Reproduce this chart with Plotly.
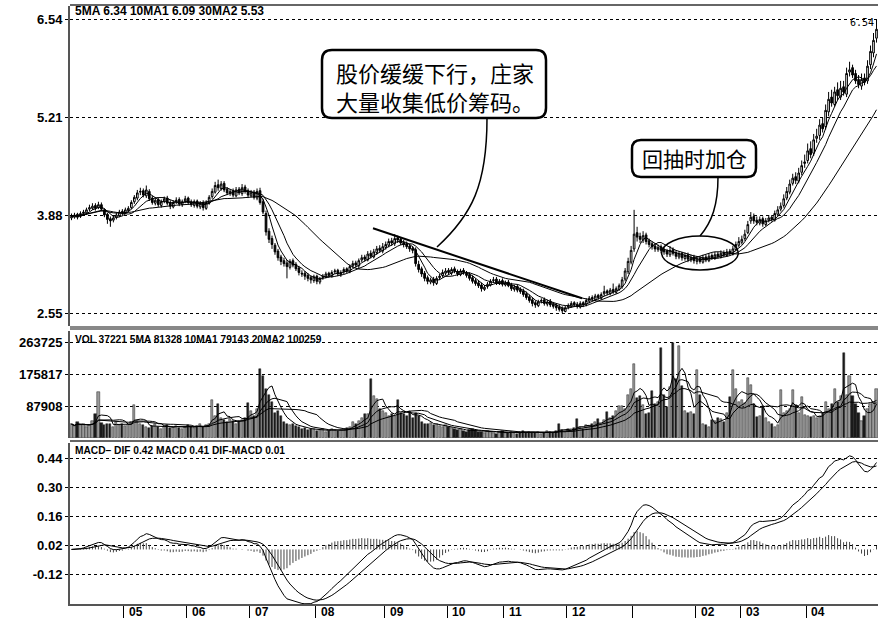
import numpy as np
import pandas as pd
import plotly.graph_objects as go

# ---------------- data ----------------
closes = [
    3.86, 3.88, 3.85, 3.90, 3.92, 3.95, 3.98, 4.00, 3.97, 4.02, 3.96, 3.88, 3.82, 3.80, 3.84, 3.88, 3.92, 3.90,
    3.95, 3.97, 4.05, 4.12, 4.18, 4.20, 4.15, 4.22, 4.10, 4.05, 4.08, 4.02, 4.06, 4.10, 4.04, 4.00, 4.05, 4.08, 4.03, 4.06, 4.10,
    4.05, 4.02, 4.06, 4.00, 4.04, 3.98, 4.05, 4.12, 4.20, 4.28, 4.25, 4.30, 4.22, 4.18, 4.20, 4.15, 4.22, 4.18, 4.25, 4.20, 4.15,
    4.18, 4.12, 4.20, 4.05, 3.92, 3.65, 3.55, 3.48, 3.38, 3.30, 3.25, 3.22, 3.18, 3.25, 3.20, 3.15, 3.10, 3.08, 3.05, 3.02, 3.00, 3.04,
    2.98, 3.02, 3.05, 3.08, 3.06, 3.10, 3.12, 3.08, 3.10, 3.14, 3.12, 3.18, 3.22, 3.20, 3.26, 3.30, 3.28, 3.35, 3.32, 3.38, 3.42, 3.40, 3.45,
    3.48, 3.52, 3.50, 3.56, 3.54, 3.50, 3.48, 3.45, 3.42, 3.40, 3.22, 3.14, 3.08, 3.02, 2.98, 3.00, 2.96, 3.02, 3.05, 3.10, 3.12,
    3.10, 3.14, 3.12, 3.08, 3.12, 3.10, 3.06, 3.02, 2.98, 2.95, 2.92, 2.88, 2.90, 2.94, 2.98, 3.00, 2.96, 2.98, 2.94,
    2.96, 2.92, 2.88, 2.90, 2.86, 2.84, 2.80, 2.76, 2.72, 2.68, 2.66, 2.70, 2.72, 2.68, 2.70, 2.66, 2.64, 2.62, 2.60, 2.58, 2.62,
    2.65, 2.68, 2.66, 2.64, 2.68, 2.66, 2.72, 2.75, 2.74, 2.78, 2.76, 2.80, 2.84, 2.82, 2.86, 2.84, 2.88, 2.92, 3.00, 3.12, 3.25, 3.40,
    3.62, 3.58, 3.55, 3.60, 3.52, 3.48, 3.45, 3.42, 3.44, 3.40, 3.38, 3.35, 3.40, 3.36, 3.32, 3.35, 3.30, 3.33, 3.28, 3.30, 3.26,
    3.28, 3.25, 3.30, 3.27, 3.32, 3.30, 3.34, 3.32, 3.36, 3.34, 3.38, 3.36, 3.42, 3.48, 3.52,
    3.55, 3.62, 3.75, 3.85, 3.80, 3.78, 3.82, 3.76, 3.80, 3.84, 3.82, 3.90, 3.95, 4.00, 4.10, 4.20, 4.30, 4.38, 4.35, 4.45, 4.55, 4.60,
    4.75, 4.70, 4.90, 4.95, 5.10, 5.05, 5.30, 5.45, 5.40, 5.55, 5.50, 5.60, 5.55, 5.80, 5.85, 5.78, 5.70, 5.65, 5.72, 5.68, 5.90, 6.10, 6.25, 6.40,
]
opens = [
    3.84, 3.85, 3.89, 3.86, 3.90, 3.91, 3.96, 3.97, 4.01, 3.98, 4.02, 3.95, 3.89, 3.83, 3.81, 3.85, 3.87, 3.93,
    3.91, 3.94, 3.98, 4.06, 4.11, 4.19, 4.21, 4.14, 4.20, 4.11, 4.04, 4.09, 4.01, 4.07, 4.11, 4.05, 3.99, 4.06, 4.09, 4.02, 4.07,
    4.11, 4.06, 4.01, 4.07, 3.99, 4.05, 3.97, 4.04, 4.13, 4.19, 4.29, 4.24, 4.31, 4.23, 4.17, 4.21, 4.14, 4.23, 4.17, 4.26, 4.21,
    4.14, 4.19, 4.11, 4.21, 4.06, 3.90, 3.66, 3.56, 3.47, 3.39, 3.31, 3.26, 3.23, 3.17, 3.26, 3.21, 3.16, 3.09, 3.09, 3.06, 3.03, 2.99,
    3.05, 2.97, 3.03, 3.04, 3.09, 3.05, 3.11, 3.13, 3.07, 3.11, 3.15, 3.11, 3.19, 3.23, 3.19, 3.27, 3.31, 3.27, 3.36, 3.31, 3.37, 3.43, 3.39,
    3.44, 3.47, 3.53, 3.49, 3.57, 3.55, 3.51, 3.49, 3.46, 3.43, 3.41, 3.21, 3.15, 3.09, 3.03, 2.97, 3.01, 2.95, 3.03, 3.06, 3.09,
    3.13, 3.09, 3.15, 3.11, 3.07, 3.13, 3.09, 3.07, 3.03, 2.99, 2.96, 2.93, 2.87, 2.91, 2.93, 2.99, 3.01, 2.95, 2.99,
    2.93, 2.97, 2.93, 2.87, 2.91, 2.87, 2.85, 2.81, 2.77, 2.73, 2.69, 2.65, 2.71, 2.73, 2.67, 2.71, 2.67, 2.65, 2.63, 2.61, 2.57,
    2.63, 2.64, 2.69, 2.67, 2.63, 2.69, 2.67, 2.71, 2.76, 2.73, 2.79, 2.75, 2.81, 2.85, 2.81, 2.87, 2.83, 2.87, 2.91, 3.01, 3.11, 3.24,
    3.42, 3.64, 3.59, 3.54, 3.61, 3.53, 3.49, 3.46, 3.41, 3.45, 3.41, 3.39, 3.34, 3.41, 3.37, 3.31, 3.36, 3.29, 3.34, 3.27, 3.31,
    3.25, 3.29, 3.24, 3.31, 3.26, 3.33, 3.29, 3.35, 3.31, 3.37, 3.33, 3.39, 3.35, 3.41, 3.47,
    3.51, 3.56, 3.64, 3.80, 3.86, 3.81, 3.77, 3.83, 3.75, 3.81, 3.85, 3.81, 3.89, 3.96, 4.01, 4.11, 4.19, 4.31, 4.40, 4.34, 4.46, 4.58,
    4.62, 4.78, 4.72, 4.92, 4.96, 5.12, 5.08, 5.28, 5.48, 5.38, 5.58, 5.48, 5.62, 5.52, 5.82, 5.88, 5.80, 5.72, 5.63, 5.74, 5.70, 5.92, 6.08, 6.28,
]
highs = [
    3.90, 3.91, 3.91, 3.93, 3.95, 3.98, 4.02, 4.04, 4.04, 4.06, 4.05, 3.97, 3.91, 3.86, 3.87, 3.91, 3.95, 3.96,
    3.98, 4.00, 4.08, 4.15, 4.22, 4.25, 4.24, 4.28, 4.23, 4.14, 4.12, 4.12, 4.09, 4.13, 4.14, 4.08, 4.08, 4.12, 4.12, 4.09, 4.14,
    4.13, 4.09, 4.09, 4.09, 4.07, 4.08, 4.08, 4.15, 4.24, 4.33, 4.36, 4.34, 4.34, 4.26, 4.23, 4.24, 4.26, 4.26, 4.30, 4.29, 4.24,
    4.22, 4.22, 4.24, 4.25, 4.10, 3.94, 3.70, 3.60, 3.50, 3.42, 3.34, 3.30, 3.27, 3.28, 3.29, 3.24, 3.19, 3.13, 3.12, 3.09, 3.06, 3.07,
    3.07, 3.04, 3.08, 3.11, 3.11, 3.13, 3.15, 3.15, 3.13, 3.17, 3.17, 3.21, 3.26, 3.26, 3.29, 3.34, 3.34, 3.39, 3.40, 3.42, 3.46, 3.47, 3.50,
    3.52, 3.56, 3.57, 3.62, 3.60, 3.58, 3.54, 3.52, 3.49, 3.46, 3.44, 3.26, 3.18, 3.12, 3.06, 3.03, 3.04, 3.05, 3.08, 3.14, 3.16,
    3.16, 3.17, 3.18, 3.14, 3.15, 3.16, 3.12, 3.10, 3.06, 3.02, 2.99, 2.96, 2.93, 2.97, 3.01, 3.04, 3.04, 3.01, 3.02,
    2.99, 3.00, 2.96, 2.93, 2.94, 2.90, 2.88, 2.84, 2.80, 2.76, 2.72, 2.73, 2.75, 2.76, 2.73, 2.74, 2.70, 2.68, 2.66, 2.64, 2.65,
    2.68, 2.71, 2.71, 2.70, 2.71, 2.71, 2.75, 2.78, 2.79, 2.81, 2.81, 2.83, 2.92, 2.87, 2.89, 2.95, 2.91, 2.95, 3.04, 3.16, 3.30, 3.46,
    3.95, 3.72, 3.64, 3.66, 3.64, 3.56, 3.52, 3.50, 3.48, 3.48, 3.44, 3.42, 3.46, 3.44, 3.40, 3.39, 3.38, 3.37, 3.37, 3.34, 3.34,
    3.32, 3.32, 3.34, 3.34, 3.36, 3.36, 3.38, 3.38, 3.40, 3.40, 3.42, 3.42, 3.46, 3.52, 3.58,
    3.60, 3.68, 3.80, 3.92, 3.90, 3.86, 3.86, 3.86, 3.84, 3.88, 3.88, 3.94, 4.00, 4.05, 4.16, 4.26, 4.36, 4.44, 4.46, 4.52, 4.62, 4.70,
    4.85, 4.88, 4.98, 5.05, 5.18, 5.20, 5.38, 5.55, 5.58, 5.62, 5.68, 5.70, 5.70, 5.88, 5.96, 5.92, 5.85, 5.78, 5.80, 5.80, 5.98, 6.18, 6.35, 6.54,
]
lows = [
    3.81, 3.83, 3.82, 3.84, 3.88, 3.88, 3.93, 3.95, 3.94, 3.96, 3.93, 3.85, 3.76, 3.72, 3.78, 3.82, 3.85, 3.87,
    3.89, 3.92, 3.96, 4.03, 4.08, 4.15, 4.12, 4.11, 4.07, 4.02, 4.01, 3.99, 3.98, 4.04, 4.01, 3.96, 3.97, 4.03, 4.00, 3.99, 4.04,
    4.02, 3.99, 3.98, 3.97, 3.96, 3.94, 3.95, 4.02, 4.10, 4.17, 4.21, 4.21, 4.19, 4.15, 4.14, 4.12, 4.12, 4.15, 4.14, 4.17, 4.11,
    4.12, 4.09, 4.08, 4.02, 3.89, 3.60, 3.50, 3.42, 3.34, 3.26, 3.20, 3.18, 3.02, 3.14, 3.17, 3.12, 3.06, 3.04, 3.00, 2.98, 2.95, 2.96,
    2.94, 2.94, 3.00, 3.02, 3.03, 3.03, 3.08, 3.05, 3.04, 3.08, 3.09, 3.09, 3.16, 3.17, 3.16, 3.24, 3.25, 3.25, 3.29, 3.29, 3.34, 3.37, 3.36,
    3.41, 3.44, 3.46, 3.46, 3.50, 3.47, 3.44, 3.42, 3.38, 3.36, 3.18, 3.10, 3.04, 2.98, 2.94, 2.94, 2.92, 2.93, 3.00, 3.03, 3.06,
    3.07, 3.06, 3.09, 3.05, 3.05, 3.07, 3.03, 2.99, 2.95, 2.92, 2.89, 2.84, 2.85, 2.88, 2.91, 2.96, 2.93, 2.93, 2.91,
    2.91, 2.90, 2.85, 2.84, 2.83, 2.81, 2.77, 2.73, 2.69, 2.64, 2.62, 2.63, 2.68, 2.65, 2.64, 2.63, 2.61, 2.58, 2.57, 2.55, 2.56,
    2.60, 2.62, 2.63, 2.61, 2.61, 2.63, 2.64, 2.68, 2.71, 2.71, 2.73, 2.73, 2.78, 2.79, 2.79, 2.81, 2.81, 2.85, 2.88, 2.98, 3.08, 3.21,
    3.38, 3.52, 3.50, 3.50, 3.48, 3.44, 3.41, 3.38, 3.38, 3.36, 3.34, 3.31, 3.31, 3.33, 3.28, 3.28, 3.26, 3.26, 3.24, 3.24, 3.22,
    3.21, 3.22, 3.22, 3.24, 3.24, 3.27, 3.27, 3.29, 3.29, 3.31, 3.31, 3.33, 3.33, 3.39, 3.44,
    3.48, 3.53, 3.62, 3.76, 3.76, 3.74, 3.74, 3.72, 3.73, 3.78, 3.79, 3.79, 3.86, 3.93, 3.98, 4.08, 4.16, 4.28, 4.30, 4.31, 4.42, 4.52,
    4.58, 4.65, 4.68, 4.86, 4.90, 5.00, 5.04, 5.22, 5.35, 5.35, 5.44, 5.44, 5.50, 5.48, 5.76, 5.74, 5.66, 5.60, 5.58, 5.64, 5.66, 5.86, 6.02, 6.22,
]
volume_k = [
    38, 32, 45, 35, 40, 30, 36, 48, 66, 126,
    42, 35, 40, 38, 30, 44, 36, 40, 33, 38, 45, 90,
    48, 40, 35, 30, 28, 33, 38, 30, 26, 32, 35, 28, 30, 34, 29, 26, 31, 36, 30, 28, 33, 38, 30, 35, 40,
    104, 60, 93, 55, 50, 45, 52, 48, 40, 46, 50, 55, 96, 74, 60, 80,
    192, 173, 135, 120, 100, 70, 75, 60, 45, 38, 35, 40, 32, 30,
    25, 28, 22, 26, 24, 20, 22, 25, 18, 20, 24, 22, 19, 21, 25, 28, 30, 45,
    40, 48, 55, 66, 66, 162, 115, 107, 80, 74, 70, 60, 66, 62,
    104, 70, 66, 60, 72, 55, 68, 62, 45, 40, 38, 42, 36, 38, 33, 30, 35,
    30, 28, 25, 22, 26, 20, 18, 22, 24, 20, 16, 18, 14, 20, 17, 15, 12, 16, 19, 14,
    13, 18, 15, 12, 16, 20, 14, 17, 15, 13, 18, 12, 15, 20, 16, 14, 19,
    38, 22, 18, 25, 20, 28, 52, 30, 26, 35,
    32, 40, 45, 52, 38, 50, 71, 55, 60, 75,
    88, 88, 80, 120, 135, 206, 110, 115, 90, 66,
    70, 129, 95, 100, 250, 120, 85, 140, 264, 162,
    255, 143, 75, 68, 72, 66, 187, 120, 38, 35,
    30, 50, 48, 55, 52, 45, 70, 113, 187, 137,
    100, 105, 98, 165, 148, 95, 58, 60, 88, 55,
    45, 40, 30, 35, 132, 70, 75, 80, 132, 90,
    70, 113, 65, 60, 58, 62, 55, 60, 70, 100,
    80, 95, 137, 100, 115, 236, 120, 173, 115, 95,
    70, 47, 60, 80, 95, 100, 135,
]
month_start_idx = [18, 39, 60, 82, 105, 126, 145, 166, 188, 209, 224, 246]
month_labels = ["05", "06", "07", "08", "09", "10", "11", "12", "", "02", "03", "04"]
price_ticks = [2.55, 3.88, 5.21, 6.54]
price_tick_text = ["2.55", "3.88", "5.21", "6.54"]
vol_ticks = [87908, 175817, 263725]
vol_tick_text = ["87908", "175817", "263725"]
macd_ticks = [-0.12, 0.02, 0.16, 0.30, 0.44]
macd_tick_text = ["-0.12", "0.02", "0.16", "0.30", "0.44"]
price_header = "5MA 6.34 10MA1 6.09 30MA2 5.53"
vol_header = "VOL 37221 5MA 81328 10MA1 79143 20MA2 100259"
macd_header = "MACD– DIF 0.42 MACD 0.41 DIF-MACD 0.01"
high_label = "6.54"
note1_lines = ["股价缓缓下行，庄家", "大量收集低价筹码。"]
note2 = "回抽时加仓"
trend_x = [100.75, 170.6]
trend_y = [3.70, 2.75]
ellipse_x = [197.2, 222.8]
ellipse_y = [3.134, 3.595]

# ---------------- derived series ----------------
n = len(closes)
for name, arr in [("opens", opens), ("highs", highs), ("lows", lows), ("volume_k", volume_k)]:
    assert len(arr) == n, f"{name} has {len(arr)} values, expected {n}"

x = np.arange(n)
o = np.array(opens)
c = np.array(closes)
h = np.maximum.reduce([np.array(highs), o, c])
lo = np.minimum.reduce([np.array(lows), o, c])
vol = np.array(volume_k, dtype=float) * 1000.0

cs = pd.Series(c)
ma5 = cs.rolling(5, min_periods=1).mean()
ma10 = cs.rolling(10, min_periods=1).mean()
ma30 = cs.rolling(30, min_periods=1).mean()
vs = pd.Series(vol)
vma5 = vs.rolling(5, min_periods=1).mean()
vma10 = vs.rolling(10, min_periods=1).mean()
vma20 = vs.rolling(20, min_periods=1).mean()
ema12 = cs.ewm(span=12, adjust=False).mean()
ema26 = cs.ewm(span=26, adjust=False).mean()
dif = ema12 - ema26
dea = dif.ewm(span=9, adjust=False).mean()
hist = dif - dea

# histogram drawn as hairlines from zero
hx, hy = [], []
for xi, v in zip(x, hist):
    hx += [xi, xi, None]
    hy += [0.0, v, None]

# ---------------- layout helpers ----------------
W, H = 878, 618
ML, MR, MT, MB = 70, 0, 4, 14
PW, PH = W - ML - MR, H - MT - MB


def px(xp):
    return (xp - ML) / PW


def py(yp):
    return (H - MB - yp) / PH


NARROW = "Liberation Sans Narrow, Arial Narrow, Liberation Sans, Arial"
SANS = "Liberation Sans, Arial, sans-serif"
CJK = "Noto Sans CJK SC, sans-serif"

fig = go.Figure()

# price panel
fig.add_trace(go.Candlestick(
    x=x, open=o, high=h, low=lo, close=c, xaxis="x", yaxis="y",
    increasing=dict(line=dict(color="black", width=1), fillcolor="white"),
    decreasing=dict(line=dict(color="black", width=1), fillcolor="black"),
    whiskerwidth=0, hoverinfo="skip"))
for ma in (ma5, ma10, ma30):
    fig.add_trace(go.Scatter(x=x, y=ma, mode="lines", xaxis="x", yaxis="y",
                             line=dict(color="black", width=1), hoverinfo="skip"))

# volume panel
vcolors = ["#9a9a9a" if cc >= oo else "#1a1a1a" for oo, cc in zip(o, c)]
fig.add_trace(go.Bar(x=x, y=vol, xaxis="x2", yaxis="y2", width=0.72,
                     marker=dict(color=vcolors, line=dict(color="#222", width=0.5)),
                     hoverinfo="skip"))
for ma in (vma5, vma10, vma20):
    fig.add_trace(go.Scatter(x=x, y=ma, mode="lines", xaxis="x2", yaxis="y2",
                             line=dict(color="black", width=1), hoverinfo="skip"))

# MACD panel
fig.add_trace(go.Scatter(x=hx, y=hy, mode="lines", xaxis="x3", yaxis="y3",
                         line=dict(color="#444", width=1), connectgaps=False, hoverinfo="skip"))
for line in (dif, dea):
    fig.add_trace(go.Scatter(x=x, y=line, mode="lines", xaxis="x3", yaxis="y3",
                             line=dict(color="black", width=1), hoverinfo="skip"))

xr = [-0.5, n - 0.5]
tickfont = dict(family=SANS, size=13, color="black", weight="bold")
common_y = dict(showgrid=True, gridcolor="black", griddash="dot", gridwidth=1,
                zeroline=False, showline=True, linecolor="#555", linewidth=2,
                ticks="outside", ticklen=3, tickcolor="black", tickfont=tickfont,
                fixedrange=True, automargin=False)
common_x = dict(range=xr, showgrid=False, zeroline=False, showticklabels=False,
                fixedrange=True, automargin=False)

fig.update_layout(
    width=W, height=H,
    margin=dict(l=ML, r=MR, t=MT, b=MB, autoexpand=False),
    paper_bgcolor="white", plot_bgcolor="white",
    showlegend=False, bargap=0, boxgap=0.2,
    xaxis=dict(domain=[0, 1], anchor="y", rangeslider=dict(visible=False), **common_x),
    xaxis2=dict(domain=[0, 1], anchor="y2", **common_x),
    xaxis3=dict(domain=[0, 1], anchor="y3", showline=True, linecolor="#555", linewidth=2,
                ticks="outside", ticklen=12, tickcolor="black",
                tickvals=[m - 0.5 for m in month_start_idx], **common_x),
    yaxis=dict(domain=[py(326), py(6)], range=[2.3736, 6.7164],
               tickvals=price_ticks, ticktext=price_tick_text, **common_y),
    yaxis2=dict(domain=[py(438), py(331)], range=[0, 296170],
                tickvals=vol_ticks, ticktext=vol_tick_text, **common_y),
    yaxis3=dict(domain=[py(604), py(443)], range=[-0.2634, 0.5139],
                tickvals=macd_ticks, ticktext=macd_tick_text, **common_y),
)

shapes = []
# panel separators
shapes.append(dict(type="line", xref="paper", yref="paper", x0=0, x1=1, y0=py(5), y1=py(5),
                   line=dict(color="#666", width=2)))
shapes.append(dict(type="line", xref="paper", yref="paper", x0=0, x1=1, y0=py(328), y1=py(328),
                   line=dict(color="#888", width=4)))
shapes.append(dict(type="line", xref="paper", yref="paper", x0=0, x1=1, y0=py(441), y1=py(441),
                   line=dict(color="#666", width=2)))
# trend line and ellipse
shapes.append(dict(type="line", xref="x", yref="y", x0=trend_x[0], x1=trend_x[1],
                   y0=trend_y[0], y1=trend_y[1], line=dict(color="black", width=2)))
shapes.append(dict(type="circle", xref="x", yref="y", x0=ellipse_x[0], x1=ellipse_x[1],
                   y0=ellipse_y[0], y1=ellipse_y[1], line=dict(color="black", width=1.5)))


def rounded_box(x0, y0, x1, y1, r):
    pts = [("M", [(x0 + r, y0)]), ("L", [(x1 - r, y0)]), ("Q", [(x1, y0), (x1, y0 + r)]),
           ("L", [(x1, y1 - r)]), ("Q", [(x1, y1), (x1 - r, y1)]), ("L", [(x0 + r, y1)]),
           ("Q", [(x0, y1), (x0, y1 - r)]), ("L", [(x0, y0 + r)]), ("Q", [(x0, y0), (x0 + r, y0)])]
    s = ""
    for cmd, pp in pts:
        s += cmd + " " + " ".join(f"{px(a):.5f},{py(b):.5f}" for a, b in pp) + " "
    return s + "Z"


def curve(p0, p1, p2, p3):
    return (f"M {px(p0[0]):.5f},{py(p0[1]):.5f} C {px(p1[0]):.5f},{py(p1[1]):.5f} "
            f"{px(p2[0]):.5f},{py(p2[1]):.5f} {px(p3[0]):.5f},{py(p3[1]):.5f}")


shapes.append(dict(type="path", xref="paper", yref="paper", path=curve((487, 118), (487, 185), (472, 215), (437, 247)),
                   line=dict(color="black", width=1.5)))
shapes.append(dict(type="path", xref="paper", yref="paper", path=curve((718, 177), (718, 205), (712, 222), (700, 236)),
                   line=dict(color="black", width=1.5)))
shapes.append(dict(type="path", xref="paper", yref="paper", path=rounded_box(322, 50, 546, 118, 10),
                   fillcolor="white", line=dict(color="black", width=2.5), layer="above"))
shapes.append(dict(type="path", xref="paper", yref="paper", path=rounded_box(632, 140, 756, 177, 9),
                   fillcolor="white", line=dict(color="black", width=2.5), layer="above"))
fig.update_layout(shapes=shapes)

ann = []
ann.append(dict(text=price_header, xref="paper", yref="paper", x=px(73), y=py(11),
                xanchor="left", yanchor="middle", showarrow=False,
                font=dict(family=NARROW, size=12, color="black", weight="bold")))
ann.append(dict(text=vol_header, xref="paper", yref="paper", x=px(73), y=py(339),
                xanchor="left", yanchor="middle", showarrow=False,
                font=dict(family=NARROW, size=10.2, color="black", weight="bold")))
ann.append(dict(text=macd_header, xref="paper", yref="paper", x=px(73), y=py(450),
                xanchor="left", yanchor="middle", showarrow=False,
                font=dict(family=NARROW, size=10.2, color="black", weight="bold")))
ann.append(dict(text=high_label, xref="paper", yref="paper", x=px(876), y=py(23),
                xanchor="right", yanchor="middle", showarrow=False,
                font=dict(family="DejaVu Sans Mono", size=10, color="black")))
for idx, lab in zip(month_start_idx, month_labels):
    if lab:
        ann.append(dict(text=lab, xref="x3", yref="paper", x=idx + 0.6, y=py(612),
                        xanchor="left", yanchor="middle", showarrow=False,
                        font=dict(family=NARROW, size=12, color="black", weight="bold")))
for k, (txt, yy) in enumerate(zip(note1_lines, [71.5, 100.5])):
    ann.append(dict(text=txt, xref="paper", yref="paper", x=px(334), y=py(yy),
                    xanchor="left", yanchor="middle", showarrow=False,
                    font=dict(family=CJK, size=22, color="black")))
ann.append(dict(text=note2, xref="paper", yref="paper", x=px(694), y=py(158.5),
                xanchor="center", yanchor="middle", showarrow=False,
                font=dict(family=CJK, size=21, color="black")))
fig.update_layout(annotations=ann)

fig.write_html("out.html", config={"displayModeBar": False},
               post_script="document.body.style.margin='0';document.body.style.overflow='hidden';")
